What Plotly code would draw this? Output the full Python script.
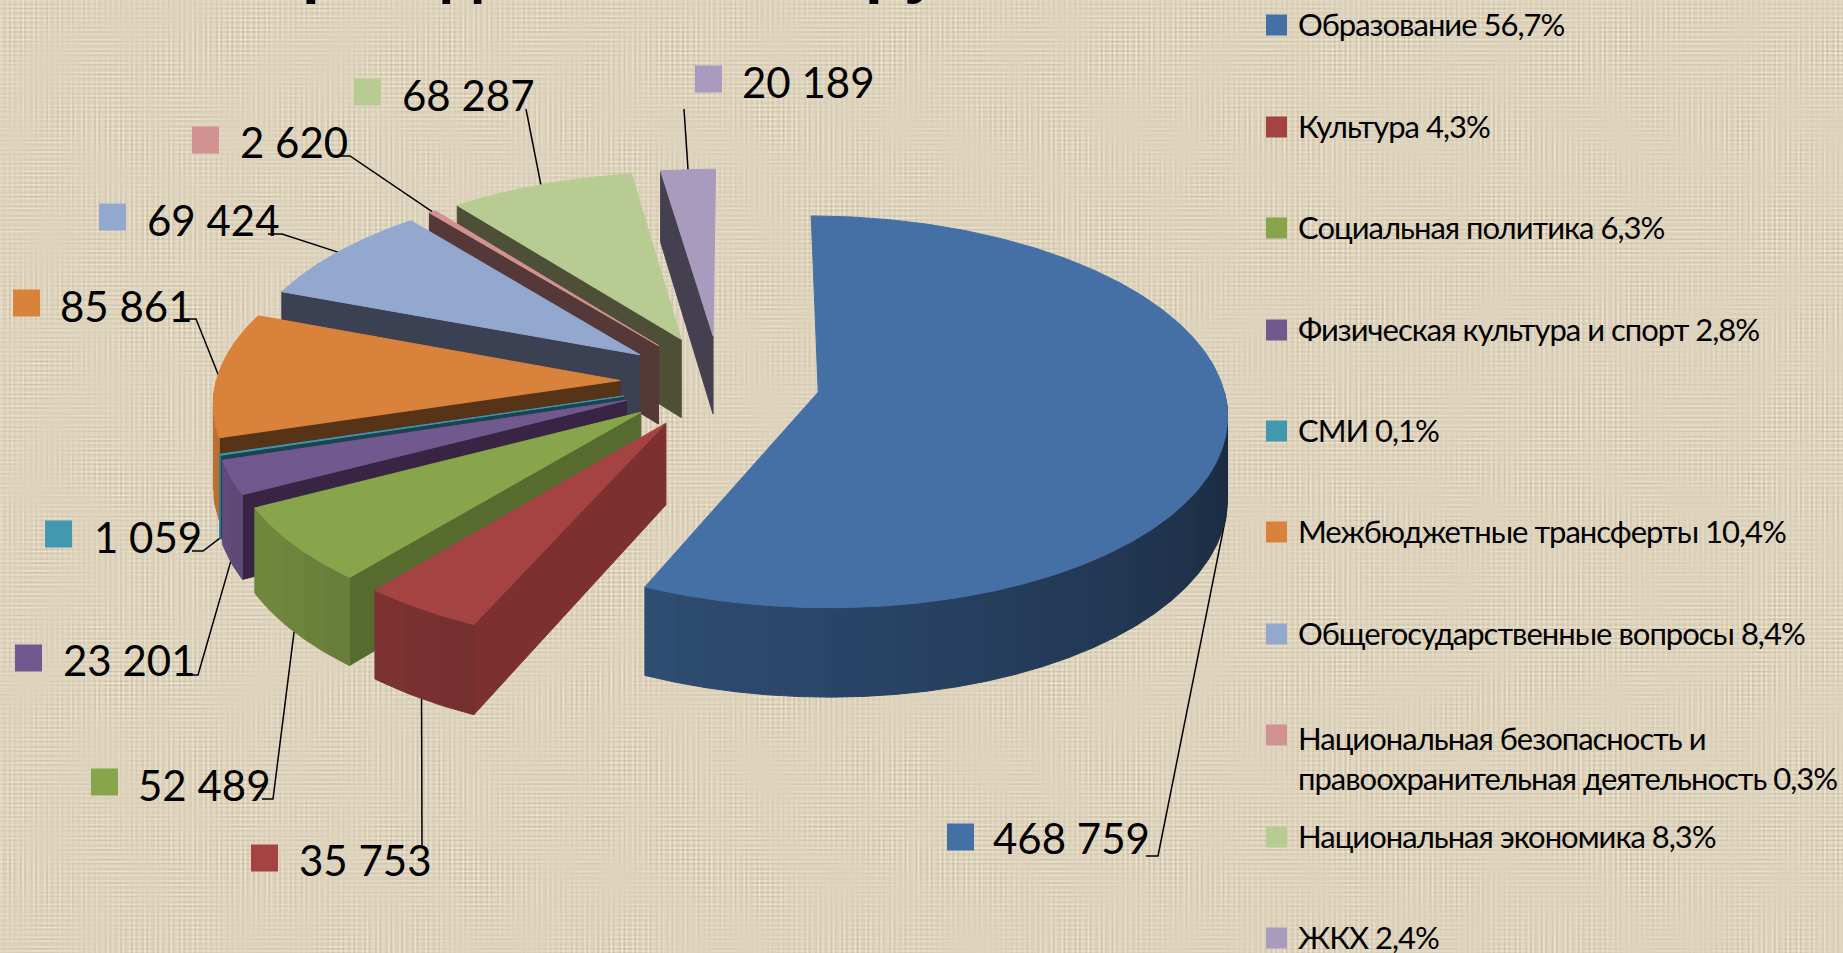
import base64, struct, zlib
import numpy as np
import plotly.graph_objects as go

# ---------- data ----------
categories = ["Образование", "Культура", "Социальная политика", "Физическая культура и спорт", "СМИ",
              "Межбюджетные трансферты", "Общегосударственные вопросы",
              "Национальная безопасность и<br>правоохранительная деятельность", "Национальная экономика", "ЖКХ"]
values = [468759, 35753, 52489, 23201, 1059, 85861, 69424, 2620, 68287, 20189]
percents = ["56,7%", "4,3%", "6,3%", "2,8%", "0,1%", "10,4%", "8,4%", "0,3%", "8,3%", "2,4%"]

# ---------- styles ----------
top_colors = ["#4470A6", "#A54342", "#89A54C", "#71588F", "#4198AF", "#D9823B", "#92A8CF", "#D19392", "#B8CB92", "#A99BBD"]
side_colors = ["#2A4A70", "#7C3030", "#586B2F", "#372543", "#1A4452", "#573318", "#3B4053", "#553838", "#4D5037", "#45404F"]
FONT = "Lato, Carlito, Open Sans, sans-serif"

# ---------- projection of the exploded 3-D pie ----------
CX, CY, R, E, K, P, H, START = 720.0, 382.0, 404.0, 100.0, 0.475, 0.10, 80.0, 0.3


def project(a, b, z=0.0):
    w = 1 - P * b / R
    return CX + a / w, CY + (K * b + z) / w


def uv(theta):
    t = np.radians(theta)
    return np.sin(t), -np.cos(t)


def hex_mul(c, f):
    r, g, b = int(c[1:3], 16), int(c[3:5], 16), int(c[5:7], 16)
    return f"rgb({int(r*f)},{int(g*f)},{int(b*f)})"


total = sum(values)
edges = START + np.concatenate([[0], np.cumsum(values)]) / total * 360.0
fig = go.Figure()


def poly(xs, ys, color, name):
    fig.add_trace(go.Scatter(x=list(xs), y=list(ys), mode="lines", fill="toself", fillcolor=color,
                             line=dict(color=color, width=1), name=name, showlegend=False, hoverinfo="name"))


def slice_geom(i):
    a0, a1 = edges[i], edges[i + 1]
    um, vm = uv((a0 + a1) / 2)
    return a0, a1, E * um, E * vm


def rim(i, theta, z=0.0):
    _, _, ax, bx = slice_geom(i)
    u, v = uv(theta)
    return project(ax + R * u, bx + R * v, z)


# ---------- leader lines (elbow points; last point is computed on the slice) ----------
elbows = {
    0: [(1146, 856), (1158, 856)],
    1: [(422, 845)],
    2: [(262, 799), (273, 799)],
    3: [(187, 675), (198, 675)],
    4: [(192, 551), (203, 551)],
    5: [(180, 319), (196, 319)],
    6: [(268, 234), (282, 234)],
    7: [(337, 156), (350, 156)],
    8: [(526, 109)],
    9: [(684, 109)],
}
for i, pts in elbows.items():
    a0, a1, _, _ = slice_geom(i)
    mid = (a0 + a1) / 2
    _, v = uv(mid)
    ex, ey = rim(i, mid, H if v > 0.1 else 0.0)
    fig.add_trace(go.Scatter(x=[p[0] for p in pts] + [ex], y=[p[1] for p in pts] + [ey], mode="lines",
                             line=dict(color="black", width=1.5), showlegend=False, hoverinfo="skip"))

# ---------- slices, back to front ----------
for i in [9, 8, 7, 6, 5, 4, 3, 2, 1, 0]:
    a0, a1, ax, bx = slice_geom(i)
    name = categories[i].replace("<br>", " ")
    apex_t = project(ax, bx)
    apex_b = project(ax, bx, H)
    # radial walls that face the viewer
    for th, normal in ((a0, a0 - 90), (a1, a1 + 90)):
        if uv(normal)[1] > 0.1:
            o_t, o_b = rim(i, th), rim(i, th, H)
            poly([apex_t[0], o_t[0], o_b[0], apex_b[0], apex_t[0]],
                 [apex_t[1], o_t[1], o_b[1], apex_b[1], apex_t[1]], side_colors[i], name)
    # curved wall in shaded strips
    lo, hi = max(a0, 90.0), min(a1, 270.0)
    if hi > lo:
        n = max(int((hi - lo) / 4), 1)
        ths = np.linspace(lo, hi, n + 1)
        for t0, t1 in zip(ths[:-1], ths[1:]):
            f = np.interp((t0 + t1) / 2, [90, 200, 230, 260], [0.36, 0.68, 0.8, 0.87])
            tt = np.linspace(t0, t1, 5)
            top = [rim(i, t) for t in tt]
            bot = [rim(i, t, H) for t in tt[::-1]]
            pts = top + bot + [top[0]]
            poly([p[0] for p in pts], [p[1] for p in pts], hex_mul(top_colors[i], f), name)
    # top face
    tt = np.linspace(a0, a1, max(int((a1 - a0) * 2), 4))
    pts = [apex_t] + [rim(i, t) for t in tt] + [apex_t]
    poly([p[0] for p in pts], [p[1] for p in pts], top_colors[i], name)

# ---------- value labels (swatch left, swatch cy, text left, text cy) ----------
label_pos = [(947, 837, 991, 838), (251, 858, 297, 860), (91, 782, 136, 785), (15, 658, 61, 660), (45, 534, 92, 537),
             (13, 303, 58, 306), (99, 217, 145, 220), (192, 140, 238, 142), (354, 92, 400, 95), (695, 79, 740, 82)]
shapes, annos = [], []
for i, (sx, sy, tx, ty) in enumerate(label_pos):
    shapes.append(dict(type="rect", xref="x", yref="y", x0=sx, x1=sx + 27, y0=sy - 13.5, y1=sy + 13.5,
                       fillcolor=top_colors[i], line_width=0))
    annos.append(dict(xref="x", yref="y", x=tx, y=ty, xanchor="left", yanchor="middle", align="left", showarrow=False,
                      text=f"{values[i]:,}".replace(",", " "), font=dict(family=FONT, size=42, color="black")))

# ---------- legend ----------
legend_y = [25, 127, 228, 330, 431, 532, 634, 735, 837, 938]
for i, y in enumerate(legend_y):
    shapes.append(dict(type="rect", xref="x", yref="y", x0=1266, x1=1287, y0=y - 10.5, y1=y + 10.5,
                       fillcolor=top_colors[i], line_width=0))
    two = "<br>" in categories[i]
    annos.append(dict(xref="x", yref="y", x=1296, y=y - 1, xanchor="left", yanchor="top" if two else "middle",
                      yshift=17 if two else 0, align="left", showarrow=False, text=f"{categories[i]} {percents[i]}",
                      font=dict(family=FONT, size=31, color="black")))

# ---------- descenders of the cropped title ----------
for ch, x in (("р", 321), ("д", 462), ("р", 884), ("у", 922)):
    annos.append(dict(xref="x", yref="paper", x=x, y=1, xanchor="center", yanchor="bottom", yshift=-7, showarrow=False,
                      text=f"<b>{ch}</b>", font=dict(family="Liberation Sans", size=64, color="black")))


# ---------- woven paper backdrop ----------
def backdrop(w=1843, h=953):
    x, y = np.arange(w), np.arange(h)
    cols = np.sin(2 * np.pi * x / 5.3) + 0.6 * np.sin(2 * np.pi * x / 3.7 + 1)
    rows = np.sin(2 * np.pi * y / 4.7) + 0.6 * np.sin(2 * np.pi * y / 3.3 + 2)
    X, Y = np.meshgrid(x, y)
    mod1 = 0.5 + 0.5 * np.sin(X / 37.0 + np.sin(Y / 53.0) * 3) * np.sin(Y / 29.0)
    mod2 = 0.5 + 0.5 * np.sin(Y / 31.0 + np.sin(X / 47.0) * 3) * np.sin(X / 23.0)
    g = 10.0 * cols[None, :] * mod1 + 10.0 * rows[:, None] * mod2
    img = np.stack([222 + g, 212 + g, 189 + g * 1.05], axis=2).clip(0, 255).astype(np.uint8)
    raw = b"".join(b"\0" + img[r].tobytes() for r in range(h))

    def chunk(t, d):
        return struct.pack(">I", len(d)) + t + d + struct.pack(">I", zlib.crc32(t + d) & 0xffffffff)

    png = b"\x89PNG\r\n\x1a\n" + chunk(b"IHDR", struct.pack(">IIBBBBB", w, h, 8, 2, 0, 0, 0)) + \
          chunk(b"IDAT", zlib.compress(raw, 9)) + chunk(b"IEND", b"")
    return "data:image/png;base64," + base64.b64encode(png).decode()


fig.update_layout(
    width=1843, height=953, margin=dict(l=0, r=0, t=0, b=0), autosize=False,
    paper_bgcolor="#E0D6BE", plot_bgcolor="rgba(0,0,0,0)", showlegend=False,
    xaxis=dict(range=[0, 1843], visible=False, fixedrange=True),
    yaxis=dict(range=[953, 0], visible=False, fixedrange=True),
    shapes=shapes, annotations=annos,
    images=[dict(source=backdrop(), xref="paper", yref="paper", x=0, y=1, sizex=1, sizey=1, sizing="stretch",
                 xanchor="left", yanchor="top", layer="below")],
)
post = """
document.documentElement.style.overflow='hidden';
document.body.style.margin='0';
document.querySelectorAll('.annotation-text').forEach(function(t){
  if (t.style.fontSize === '31px') { t.style.letterSpacing = '-1px'; }
});
"""
fig.write_html("out.html", config=dict(displayModeBar=False), post_script=post)
